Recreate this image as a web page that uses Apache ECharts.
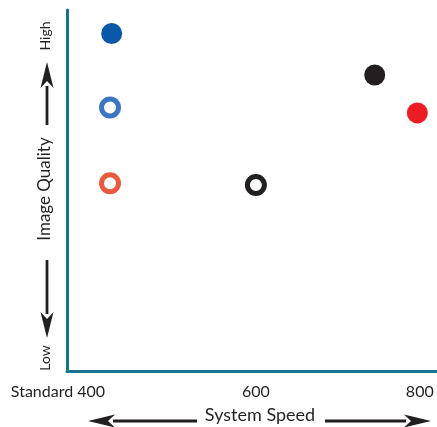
<!DOCTYPE html>
<html><head><meta charset="utf-8">
<script src="https://cdn.jsdelivr.net/npm/echarts@6/dist/echarts.min.js"></script>
<style>html,body{margin:0;padding:0;background:#fff}#c{width:437px;height:427px}</style>
</head><body><div id="c"></div>
<script>
const xTicks = [400, 600, 800];
const xTickLabels = ['Standard 400', '600', '800'];
const yEndLabels = ['Low', 'High'];
const xTitle = 'System Speed';
const yTitle = 'Image Quality';
// series: [speed, quality(0-100)]
const blueFilled = [[424, 93.5]];
const blueOpen = [[422, 73]];
const orangeOpen = [[422, 52]];
const blackOpen = [[600, 51.5]];
const blackFilled = [[745, 82]];
const redFilled = [[797, 71.5]];

const axisColor = '#17768f';
const font = 'Lato';
const chart = echarts.init(document.getElementById('c'), null, {renderer: 'canvas'});

function filled(data, color) {
  return {type: 'scatter', data, symbol: 'circle', symbolSize: 21,
    itemStyle: {color, opacity: 1}, z: 3, silent: true};
}
function ring(data, color) {
  return {type: 'scatter', data, symbol: 'circle', symbolSize: 17,
    itemStyle: {color: '#fff', borderColor: color, borderWidth: 5, opacity: 1}, z: 3, silent: true};
}
function arrowV(x, yTail, yTip) {
  const dir = yTip < yTail ? -1 : 1;
  const headLen = 26, headW = 13;
  return [
    {type: 'line', shape: {x1: x, y1: yTail, x2: x, y2: yTip - dir * headLen + dir * 2}, style: {stroke: '#231f20', lineWidth: 2.8}},
    {type: 'polygon', shape: {points: [[x, yTip], [x - headW / 2, yTip - dir * headLen], [x, yTip - dir * (headLen - 7)], [x + headW / 2, yTip - dir * headLen]]}, style: {fill: '#231f20'}}
  ];
}
function arrowH(y, xTail, xTip) {
  const dir = xTip < xTail ? -1 : 1;
  const headLen = 27, headW = 13;
  return [
    {type: 'line', shape: {x1: xTail, y1: y, x2: xTip - dir * headLen + dir * 2, y2: y}, style: {stroke: '#231f20', lineWidth: 2.8}},
    {type: 'polygon', shape: {points: [[xTip, y], [xTip - dir * headLen, y - headW / 2], [xTip - dir * (headLen - 7), y], [xTip - dir * headLen, y + headW / 2]]}, style: {fill: '#231f20'}}
  ];
}

const option = {
  animation: false,
  grid: {left: 67, right: 0, top: 10, bottom: 56, containLabel: false},
  xAxis: {
    type: 'value', min: 369.5, max: 821,
    axisLine: {show: true, onZero: false, lineStyle: {color: axisColor, width: 3}},
    axisTick: {show: false},
    splitLine: {show: false},
    axisLabel: {
      customValues: xTicks,
      margin: 13,
      color: '#231f20', fontFamily: font, fontSize: 16,
      formatter: v => {
        const i = xTicks.indexOf(v);
        if (i === 0) return '{a|Standard }{n|400}{p|}';
        return i >= 0 ? xTickLabels[i] : '';
      },
      rich: {
        a: {fontFamily: font, fontSize: 16, color: '#231f20'},
        n: {fontFamily: font, fontSize: 16, color: '#231f20'},
        p: {width: 68}
      }
    }
  },
  yAxis: {
    type: 'value', min: 0, max: 100,
    axisLine: {show: true, onZero: false, lineStyle: {color: axisColor, width: 3}},
    axisTick: {show: false}, axisLabel: {show: false}, splitLine: {show: false}
  },
  graphic: [
    {type: 'text', x: 45, y: 36, rotation: Math.PI / 2, style: {text: yEndLabels[1], font: '14px Lato', fill: '#231f20', align: 'center', verticalAlign: 'middle'}},
    {type: 'text', x: 45, y: 358, rotation: Math.PI / 2, style: {text: yEndLabels[0], font: '14px Lato', fill: '#231f20', align: 'center', verticalAlign: 'middle'}},
    {type: 'text', x: 45, y: 189, rotation: Math.PI / 2, style: {text: yTitle, font: '17px Lato', fill: '#231f20', align: 'center', verticalAlign: 'middle'}},
    ...arrowV(47, 125, 62),
    ...arrowV(47, 260, 338),
    {type: 'text', x: 260, y: 415, style: {text: xTitle, font: '18px Lato', fill: '#231f20', align: 'center', verticalAlign: 'middle'}},
    ...arrowH(421, 197, 88),
    ...arrowH(421, 325, 431)
  ],
  series: [
    filled(blueFilled, '#0a58a8'),
    ring(blueOpen, '#3a76c2'),
    ring(orangeOpen, '#ea5a3e'),
    ring(blackOpen, '#231f20'),
    filled(blackFilled, '#231f20'),
    filled(redFilled, '#ec1c24')
  ]
};
chart.setOption(option);
</script></body></html>
